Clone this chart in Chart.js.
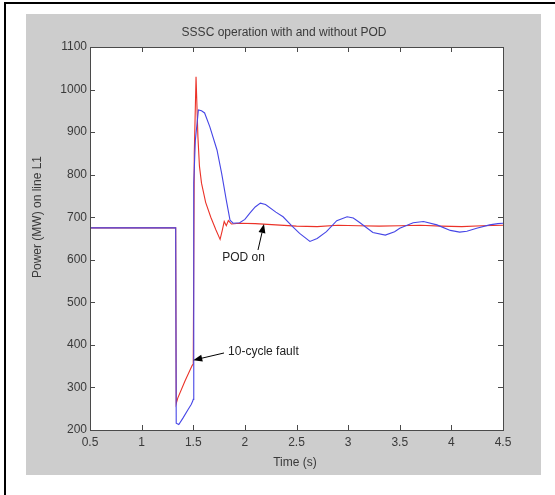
<!DOCTYPE html>
<html><head><meta charset="utf-8">
<script src="https://cdn.jsdelivr.net/npm/chart.js@4"></script>
<style>html,body{margin:0;padding:0;background:#fff}#c{display:block}</style>
</head><body>
<canvas id="c" width="555" height="495"></canvas>
<script>
const chartTitle = 'SSSC operation with and without POD';
const xAxisTitle = 'Time (s)';
const yAxisTitle = 'Power (MW) on line L1';
const xTickValues = [0.5, 1, 1.5, 2, 2.5, 3, 3.5, 4, 4.5];
const xTickLabels = ['0.5', '1', '1.5', '2', '2.5', '3', '3.5', '4', '4.5'];
const yTickValues = [200, 300, 400, 500, 600, 700, 800, 900, 1000, 1100];
const yTickLabels = ['200', '300', '400', '500', '600', '700', '800', '900', '1000', '1100'];

// Without POD (blue)
const timeWithout = [0.5, 1.33, 1.335, 1.36, 1.40, 1.45, 1.48, 1.495, 1.5, 1.505, 1.52, 1.55, 1.58, 1.61, 1.66, 1.73, 1.775, 1.82, 1.856, 1.886, 1.95, 2.0, 2.05, 2.1, 2.15, 2.2, 2.3, 2.37, 2.45, 2.53, 2.63, 2.7, 2.79, 2.89, 2.99, 3.05, 3.115, 3.24, 3.36, 3.45, 3.5, 3.63, 3.73, 3.86, 3.99, 4.08, 4.15, 4.245, 4.37, 4.45, 4.5];
const powerWithout = [675, 675, 216, 213, 228, 248, 260, 268, 272, 780, 880, 952, 950, 945, 913, 858, 803, 740, 693, 686, 687, 695, 710, 724, 733, 730, 712, 701, 681, 662, 643, 650, 666, 692, 701, 698, 687, 664, 658, 666, 674, 687, 690, 682, 669, 665, 667, 674, 682, 685, 686];

// With POD (red)
const timeWith = [0.5, 1.33, 1.335, 1.35, 1.42, 1.49, 1.5, 1.51, 1.527, 1.545, 1.56, 1.58, 1.62, 1.67, 1.72, 1.76, 1.78, 1.80, 1.82, 1.84, 1.87, 1.95, 2.1, 2.3, 2.5, 2.7, 2.9, 3.1, 3.3, 3.5, 3.7, 3.9, 4.1, 4.3, 4.5];
const powerWith = [675, 675, 262, 275, 315, 352, 355, 850, 1030, 890, 820, 780, 735, 700, 670, 648, 668, 690, 680, 692, 684, 686, 685, 682, 679, 678, 681, 680, 679, 680, 681, 679, 678, 680, 681];

// Annotations (data units)
const annotationTexts = ['POD on', '10-cycle fault'];
const annotationAnchors = [[1.78, 604], [1.837, 383]];
const arrowTails = [[2.127, 623], [1.798, 381]];
const arrowTips = [[2.185, 684], [1.5, 364]];

const FONT = '"Liberation Sans", Arial, sans-serif';
const TEXT_COLOR = '#3a3a3a';

function toPoints(xs, ys) { return xs.map((x, i) => ({ x: x, y: ys[i] })); }

const framePlugin = {
  id: 'frame',
  beforeDraw(chart) {
    const ctx = chart.ctx, a = chart.chartArea;
    ctx.save();
    ctx.fillStyle = '#ffffff';
    ctx.fillRect(0, 0, chart.width, chart.height);
    ctx.fillStyle = '#cdcdcd';
    ctx.fillRect(26, 14, 515, 461);
    ctx.fillStyle = '#ffffff';
    ctx.fillRect(a.left, a.top, a.right - a.left, a.bottom - a.top);
    ctx.strokeStyle = '#000000';
    ctx.lineWidth = 2;
    ctx.beginPath();
    ctx.moveTo(5, 495); ctx.lineTo(5, 3); ctx.lineTo(555, 3);
    ctx.stroke();
    ctx.restore();
  },
  afterDraw(chart) {
    const ctx = chart.ctx, a = chart.chartArea;
    const xs = chart.scales.x, ys = chart.scales.y;
    ctx.save();
    // box
    ctx.strokeStyle = '#4a4a4a';
    ctx.lineWidth = 1;
    ctx.strokeRect(Math.round(a.left) + 0.5, Math.round(a.top) + 0.5, Math.round(a.right - a.left), Math.round(a.bottom - a.top));
    // inward ticks
    const tl = 5;
    ctx.beginPath();
    xTickValues.forEach(v => {
      const px = Math.round(xs.getPixelForValue(v)) + 0.5;
      ctx.moveTo(px, a.bottom); ctx.lineTo(px, a.bottom - tl);
      ctx.moveTo(px, a.top); ctx.lineTo(px, a.top + tl);
    });
    yTickValues.forEach(v => {
      const py = Math.round(ys.getPixelForValue(v)) + 0.5;
      ctx.moveTo(a.left, py); ctx.lineTo(a.left + tl, py);
      ctx.moveTo(a.right, py); ctx.lineTo(a.right - tl, py);
    });
    ctx.stroke();
    // texts
    ctx.fillStyle = TEXT_COLOR;
    ctx.font = '12px ' + FONT;
    ctx.textAlign = 'center';
    ctx.textBaseline = 'middle';
    ctx.fillText(chartTitle, 284, 33);
    ctx.fillText(xAxisTitle, 295, 463);
    ctx.save();
    ctx.translate(38, 217);
    ctx.rotate(-Math.PI / 2);
    ctx.fillText(yAxisTitle, 0, 0);
    ctx.restore();
    // annotations
    ctx.fillStyle = '#222';
    ctx.textAlign = 'left';
    annotationTexts.forEach((t, i) => {
      const [ax, ay] = annotationAnchors[i];
      ctx.fillText(t, xs.getPixelForValue(ax), ys.getPixelForValue(ay));
    });
    ctx.strokeStyle = '#000';
    ctx.fillStyle = '#000';
    ctx.lineWidth = 1;
    arrowTails.forEach((tail, i) => {
      const x0 = xs.getPixelForValue(tail[0]), y0 = ys.getPixelForValue(tail[1]);
      const x1 = xs.getPixelForValue(arrowTips[i][0]), y1 = ys.getPixelForValue(arrowTips[i][1]);
      const ang = Math.atan2(y1 - y0, x1 - x0);
      const L = 9, W = 3.5;
      const bx = x1 - L * Math.cos(ang), by = y1 - L * Math.sin(ang);
      ctx.beginPath(); ctx.moveTo(x0, y0); ctx.lineTo(bx, by); ctx.stroke();
      ctx.beginPath();
      ctx.moveTo(x1, y1);
      ctx.lineTo(bx + W * Math.sin(ang), by - W * Math.cos(ang));
      ctx.lineTo(bx - W * Math.sin(ang), by + W * Math.cos(ang));
      ctx.closePath(); ctx.fill();
    });
    ctx.restore();
  }
};

Chart.defaults.font.family = FONT;
Chart.defaults.font.size = 12;
Chart.defaults.color = TEXT_COLOR;

new Chart(document.getElementById('c'), {
  type: 'line',
  data: {
    datasets: [
      {
        label: 'Without POD',
        data: toPoints(timeWithout, powerWithout),
        borderColor: 'rgb(70,70,230)',
        borderWidth: 1.1,
        pointRadius: 0,
        tension: 0,
        fill: false
      },
      {
        label: 'With POD',
        data: toPoints(timeWith, powerWith),
        borderColor: 'rgb(235,50,40)',
        borderWidth: 1.1,
        pointRadius: 0,
        tension: 0,
        fill: false
      }
    ]
  },
  options: {
    responsive: false,
    animation: false,
    devicePixelRatio: 1,
    layout: { padding: { left: 26, top: 47, right: 52, bottom: 20 } },
    plugins: { legend: { display: false }, title: { display: false }, tooltip: { enabled: false } },
    scales: {
      x: {
        type: 'linear',
        min: 0.5, max: 4.5,
        grid: { display: false, drawTicks: false },
        border: { display: false },
        afterBuildTicks(s) { s.ticks = xTickValues.map(v => ({ value: v })); },
        afterFit(s) { s.height = 45; },
        ticks: {
          padding: 5,
          maxRotation: 0,
          autoSkip: false,
          callback: (v, i) => xTickLabels[i]
        }
      },
      y: {
        type: 'linear',
        min: 200, max: 1100,
        grid: { display: false, drawTicks: false },
        border: { display: false },
        afterBuildTicks(s) { s.ticks = yTickValues.map(v => ({ value: v })); },
        afterFit(s) { s.width = 64; },
        ticks: {
          padding: 3,
          autoSkip: false,
          callback: (v, i) => yTickLabels[i]
        }
      }
    }
  },
  plugins: [framePlugin]
});
</script>
</body></html>
